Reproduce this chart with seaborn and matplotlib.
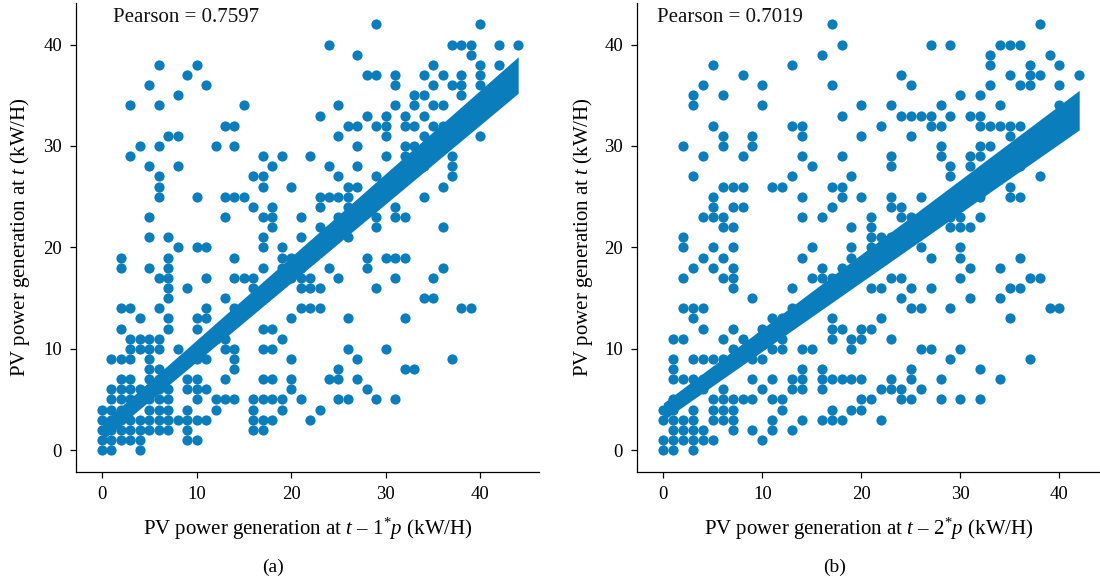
import numpy as np
import matplotlib
matplotlib.use("Agg")
import matplotlib.pyplot as plt
import seaborn as sns
import pandas as pd

# ---------------- data ----------------
left_points = [
    (6, 38), (10, 38), (9, 37), (5, 36), (11, 36), (8, 35), (3, 34), (6, 34), (15, 34),
    (13, 32), (14, 32), (7, 31), (8, 31), (4, 30), (6, 30), (12, 30), (14, 30),
    (3, 29), (17, 29), (19, 29), (22, 29), (5, 28), (8, 28), (18, 28), (6, 27), (16, 27), (17, 27),
    (6, 26), (17, 26), (20, 26), (6, 25), (10, 25), (13, 25), (14, 25), (15, 25), (16, 24), (18, 24),
    (5, 23), (13, 23), (17, 23), (18, 23), (21, 23), (18, 22), (5, 21), (7, 21), (17, 21), (21, 21),
    (29, 42), (40, 42), (24, 40), (37, 40), (38, 40), (39, 40), (42, 40), (44, 40), (27, 39), (39, 39),
    (35, 38), (40, 38), (42, 38), (28, 37), (29, 37), (31, 37), (34, 37), (36, 37), (38, 37), (40, 37),
    (31, 36), (35, 36), (37, 36), (38, 36), (40, 36), (33, 35), (34, 35), (38, 35),
    (25, 34), (31, 34), (33, 34), (35, 34), (36, 34), (23, 33), (28, 33), (30, 33), (32, 33), (34, 33),
    (26, 32), (27, 32), (29, 32), (30, 32), (32, 32), (33, 32), (35, 32), (36, 32),
    (25, 31), (30, 31), (34, 31), (40, 31), (27, 30), (32, 30), (33, 30), (30, 29), (32, 29), (37, 29),
    (24, 28), (27, 28), (34, 28), (37, 28), (25, 27), (29, 27), (37, 27), (26, 26), (27, 26), (36, 26),
    (23, 25), (24, 25), (25, 25), (26, 25), (34, 25), (23, 24), (26, 24), (31, 24),
    (25, 23), (29, 23), (31, 23), (32, 23), (23, 22), (26, 22), (29, 22), (36, 22), (26, 21),
    (8, 20), (10, 20), (11, 20), (17, 20), (19, 20),
    (2, 19), (7, 19), (14, 19), (19, 19), (20, 19),
    (2, 18), (5, 18), (7, 18), (17, 18), (19, 18), (20, 18),
    (6, 17), (7, 17), (11, 17), (14, 17), (15, 17), (16, 17), (20, 17), (21, 17),
    (7, 16), (9, 16), (16, 16), (21, 16), (7, 15), (13, 15),
    (2, 14), (3, 14), (6, 14), (11, 14), (14, 14), (15, 14), (21, 14), (22, 14),
    (4, 13), (7, 13), (10, 13), (11, 13), (14, 13), (20, 13),
    (2, 12), (7, 12), (10, 12), (17, 12), (18, 12),
    (3, 11), (4, 11), (5, 11), (6, 11), (12, 11), (13, 11), (19, 11),
    (3, 10), (4, 10), (5, 10), (6, 10), (8, 10), (13, 10), (14, 10), (17, 10), (18, 10),
    (1, 9), (2, 9), (3, 9), (5, 9), (10, 9), (11, 9), (14, 9), (20, 9),
    (5, 8), (6, 8), (14, 8),
    (2, 7), (3, 7), (5, 7), (6, 7), (9, 7), (10, 7), (13, 7), (17, 7), (18, 7), (20, 7),
    (1, 6), (2, 6), (3, 6), (4, 6), (5, 6), (6, 6), (7, 6), (9, 6), (10, 6), (11, 6), (20, 6),
    (1, 5), (2, 5), (3, 5), (4, 5), (5, 5), (6, 5), (7, 5), (10, 5), (12, 5), (13, 5), (14, 5),
    (16, 5), (17, 5), (18, 5), (19, 5), (21, 5),
    (0, 4), (1, 4), (2, 4), (3, 4), (5, 4), (6, 4), (7, 4), (9, 4), (12, 4), (16, 4), (19, 4),
    (0, 3), (1, 3), (2, 3), (3, 3), (4, 3), (5, 3), (6, 3), (7, 3), (8, 3), (9, 3), (10, 3), (11, 3),
    (16, 3), (17, 3), (18, 3), (22, 3),
    (0, 2), (1, 2), (2, 2), (3, 2), (4, 2), (5, 2), (6, 2), (7, 2), (9, 2), (16, 2), (17, 2),
    (0, 1), (1, 1), (2, 1), (3, 1), (4, 1), (9, 1), (10, 1),
    (0, 0), (1, 0), (4, 0),
    (28, 19), (30, 19), (31, 19), (32, 19), (21, 18), (24, 18), (28, 18), (36, 18),
    (22, 17), (25, 17), (31, 17), (35, 17), (22, 16), (23, 16), (29, 16), (34, 15), (35, 15),
    (23, 14), (38, 14), (39, 14), (26, 13), (32, 13), (26, 10), (30, 10), (27, 9), (37, 9),
    (25, 8), (32, 8), (33, 8), (24, 7), (25, 7), (27, 7), (28, 6),
    (25, 5), (26, 5), (29, 5), (31, 5), (23, 4),
]

right_points = [
    (17, 42), (18, 40), (16, 39), (5, 38), (13, 38), (8, 37), (4, 36), (10, 36), (17, 36),
    (3, 35), (6, 35), (3, 34), (10, 34), (20, 34), (18, 33), (5, 32), (13, 32), (14, 32),
    (6, 31), (9, 31), (14, 31), (20, 31), (2, 30), (6, 30), (9, 30), (4, 29), (8, 29), (14, 29), (18, 29),
    (15, 28), (3, 27), (13, 27), (19, 27), (6, 26), (7, 26), (8, 26), (11, 26), (12, 26), (17, 26), (18, 26),
    (5, 25), (14, 25), (18, 25), (20, 25), (5, 24), (7, 24), (8, 24), (17, 24),
    (4, 23), (5, 23), (6, 23), (14, 23), (16, 23), (21, 23), (6, 22), (7, 22), (19, 22), (21, 22), (2, 21),
    (38, 42), (27, 40), (29, 40), (34, 40), (35, 40), (36, 40), (33, 39), (39, 39),
    (33, 38), (37, 38), (40, 38), (24, 37), (35, 37), (37, 37), (38, 37), (42, 37),
    (25, 36), (33, 36), (36, 36), (37, 36), (40, 36), (30, 35), (32, 35),
    (23, 34), (28, 34), (34, 34), (40, 34), (24, 33), (25, 33), (26, 33), (27, 33), (29, 33), (31, 33), (32, 33),
    (22, 32), (27, 32), (28, 32), (32, 32), (33, 32), (34, 32), (35, 32), (36, 32),
    (25, 31), (35, 31), (28, 30), (32, 30), (33, 30), (23, 29), (28, 29), (31, 29), (32, 29),
    (23, 28), (29, 28), (31, 28), (36, 28), (29, 27), (38, 27), (35, 26),
    (23, 25), (26, 25), (32, 25), (35, 25), (36, 25), (23, 24), (24, 24),
    (24, 23), (25, 23), (29, 23), (30, 23), (32, 23), (29, 22), (30, 22), (31, 22),
    (21, 21), (22, 21), (23, 21),
    (2, 20), (5, 20), (7, 20), (15, 20), (19, 20), (21, 20),
    (4, 19), (6, 19), (14, 19), (19, 19),
    (3, 18), (5, 18), (7, 18), (16, 18), (18, 18),
    (2, 17), (6, 17), (7, 17), (15, 17), (16, 17), (17, 17),
    (7, 16), (13, 16), (21, 16), (9, 15),
    (2, 14), (3, 14), (4, 14), (13, 14), (14, 14),
    (3, 13), (11, 13), (12, 13), (17, 13),
    (4, 12), (7, 12), (10, 12), (17, 12), (18, 12), (20, 12),
    (1, 11), (2, 11), (6, 11), (8, 11), (10, 11), (12, 11), (17, 11), (19, 11), (20, 11),
    (7, 10), (11, 10), (12, 10), (14, 10), (15, 10), (19, 10),
    (1, 9), (3, 9), (4, 9), (5, 9), (6, 9), (9, 9), (10, 9),
    (1, 8), (14, 8), (16, 8),
    (1, 7), (2, 7), (3, 7), (4, 7), (9, 7), (11, 7), (13, 7), (14, 7), (16, 7), (17, 7), (18, 7), (19, 7), (20, 7),
    (4, 6), (6, 6), (10, 6), (13, 6), (14, 6), (16, 6),
    (1, 5), (5, 5), (6, 5), (7, 5), (8, 5), (9, 5), (11, 5), (12, 5), (20, 5),
    (0, 4), (1, 4), (3, 4), (5, 4), (6, 4), (7, 4), (12, 4), (17, 4), (19, 4), (20, 4),
    (0, 3), (1, 3), (2, 3), (3, 3), (5, 3), (6, 3), (7, 3), (11, 3), (14, 3), (16, 3), (17, 3), (18, 3),
    (1, 2), (2, 2), (3, 2), (4, 2), (7, 2), (9, 2), (11, 2), (13, 2),
    (0, 1), (1, 1), (2, 1), (3, 1), (4, 1), (5, 1), (10, 1),
    (0, 0), (1, 0), (3, 0),
    (26, 20), (30, 20), (27, 19), (30, 19), (36, 19), (31, 18), (34, 18),
    (23, 17), (24, 17), (30, 17), (37, 17), (38, 17),
    (22, 16), (25, 16), (27, 16), (35, 16), (36, 16), (24, 15), (31, 15), (34, 15),
    (25, 14), (26, 14), (29, 14), (39, 14), (40, 14), (22, 13), (35, 13), (21, 12), (23, 11),
    (26, 10), (27, 10), (30, 10), (29, 9), (37, 9), (25, 8), (32, 8),
    (23, 7), (25, 7), (28, 7), (34, 7), (22, 6), (23, 6), (24, 6), (26, 6),
    (21, 5), (24, 5), (25, 5), (28, 5), (30, 5), (32, 5), (22, 3),
]

pearson_values = [0.7597, 0.7019]
fit_intercepts = [1.8, 3.8]
fit_slopes = [0.80, 0.708]
band_halfwidth_start = [0.85, 0.85]
band_halfwidth_end = [1.8, 1.95]
tick_values = [0, 10, 20, 30, 40]
x_labels = [r"PV power generation at $t$ – $1^{*}p$ (kW/H)",
            r"PV power generation at $t$ – $2^{*}p$ (kW/H)"]
y_label = r"PV power generation at $t$ (kW/H)"
panel_tags = ["(a)", "(b)"]

# ---------------- styling ----------------
sns.set_theme(style="ticks")
plt.rcParams["font.family"] = ["Liberation Serif", "DejaVu Serif"]
plt.rcParams["mathtext.fontset"] = "custom"
plt.rcParams["mathtext.rm"] = "Liberation Serif"
plt.rcParams["mathtext.it"] = "Liberation Serif:italic"
plt.rcParams["mathtext.bf"] = "Liberation Serif:bold"

dot_color = "#0a7dbd"
fig = plt.figure(figsize=(11, 5.84), dpi=100)

axes_rects = [[76 / 1100, 112 / 584, 463 / 1100, 469 / 584],
              [637 / 1100, 112 / 584, 463 / 1100, 469 / 584]]
xlims = [(-2.75, 46.2), (-2.66, 44.1)]
tag_x = [273 / 1100, 835 / 1100]
text_x = [1.2, -0.6]
ylabel_x = [-0.095, -0.091]

for i, pts in enumerate([left_points, right_points]):
    pts = list(dict.fromkeys(pts))
    df = pd.DataFrame(pts, columns=["x", "y"])
    ax = fig.add_axes(axes_rects[i])
    sns.scatterplot(data=df, x="x", y="y", ax=ax, color=dot_color, s=54,
                    linewidth=0, zorder=2)
    xs = np.linspace(df["x"].min(), df["x"].max(), 200)
    center = fit_intercepts[i] + fit_slopes[i] * xs
    hw = np.linspace(band_halfwidth_start[i], band_halfwidth_end[i], xs.size)
    ax.fill_between(xs, center - hw, center + hw, color=dot_color, lw=0, zorder=3)

    ax.set_xlim(*xlims[i])
    ax.set_ylim(-2.15, 44.1)
    ax.set_xticks(tick_values)
    ax.set_yticks(tick_values)
    ax.tick_params(axis="both", labelsize=13.5, length=4, width=0.9, color="black",
                   labelcolor="black", direction="out", pad=6)
    for s in ["left", "bottom"]:
        ax.spines[s].set_color("black")
        ax.spines[s].set_linewidth(0.9)
    sns.despine(ax=ax)
    ax.set_xlabel(x_labels[i], fontsize=15, color="black")
    ax.set_ylabel(y_label, fontsize=15, color="black")
    ax.xaxis.set_label_coords(0.5, -0.094)
    ax.yaxis.set_label_coords(ylabel_x[i], 0.5)
    ax.text(text_x[i], 42.7, f"Pearson = {pearson_values[i]:.4f}", fontsize=15,
            va="center", ha="left", color="#111111")
    fig.text(tag_x[i], 1 - 567 / 584, panel_tags[i], fontsize=14, ha="center",
             va="center", color="black")

fig.savefig("out.png", dpi=100)
